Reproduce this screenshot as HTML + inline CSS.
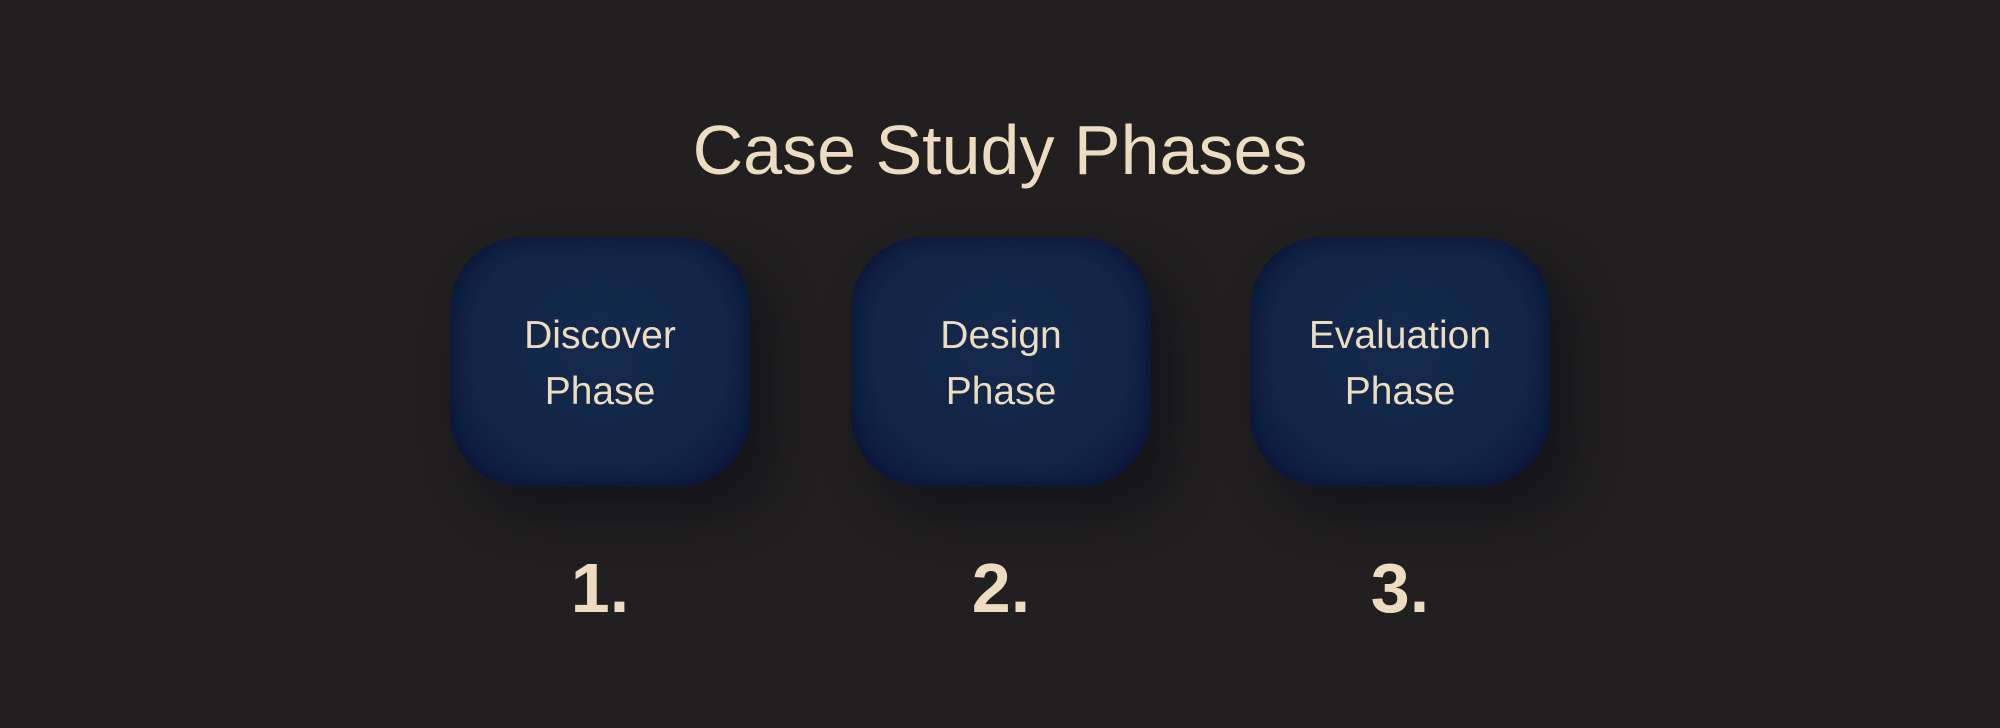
<!DOCTYPE html>
<html><head><meta charset="utf-8"><style>
html,body{margin:0;padding:0;}
body{width:2000px;height:728px;background:#211f20;position:relative;overflow:hidden;font-family:"Liberation Sans",sans-serif;color:#eddcbf;}
.title{position:absolute;left:0;width:2000px;top:110px;text-align:center;font-size:70px;line-height:80px;}
.box{position:absolute;top:237px;width:300px;height:250px;border-radius:72px;
background:radial-gradient(ellipse at 50% 45%,#13294b 0%,#122647 60%,#0c1b3e 88%,#09143a 100%);
box-shadow:inset 0 0 16px 3px rgba(5,10,45,0.5),22px 26px 45px rgba(10,10,15,0.55);}
.lbl{position:absolute;left:0;width:300px;top:71px;text-align:center;font-size:39px;line-height:56px;}
.num{position:absolute;top:548px;width:300px;text-align:center;font-size:70px;font-weight:bold;line-height:80px;}
</style></head><body>
<div class="title">Case Study Phases</div>
<div class="box" style="left:450px"><div class="lbl">Discover<br>Phase</div></div>
<div class="box" style="left:851px"><div class="lbl">Design<br>Phase</div></div>
<div class="box" style="left:1250px"><div class="lbl">Evaluation<br>Phase</div></div>
<div class="num" style="left:450px">1.</div>
<div class="num" style="left:851px">2.</div>
<div class="num" style="left:1250px">3.</div>
</body></html>
